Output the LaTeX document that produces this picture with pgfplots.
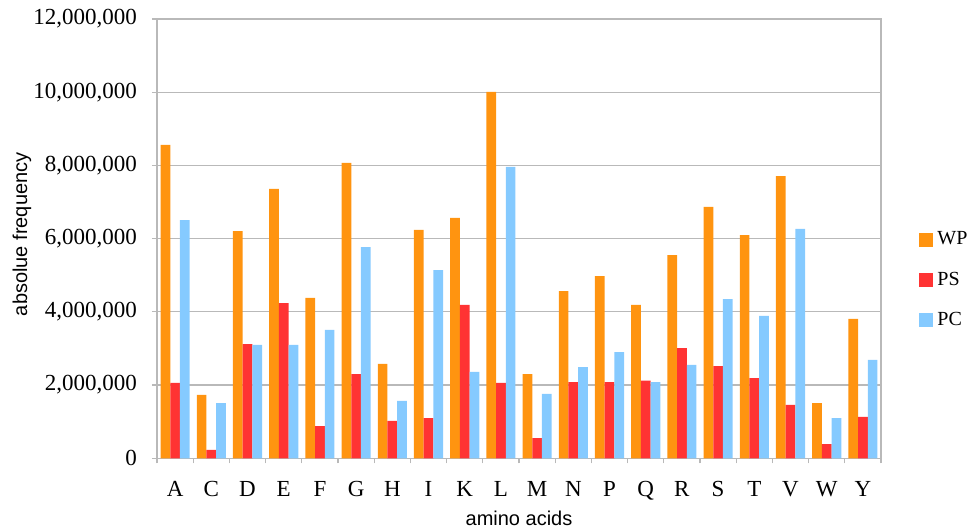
\documentclass[border=0pt]{standalone}
\usepackage{fontspec}
\setmainfont{Liberation Serif}
\newfontfamily\labelsans{Liberation Sans}
\usepackage{pgfplots}
\usepackage{pgfplotstable}
\pgfplotsset{compat=1.18}

\definecolor{wpcol}{RGB}{255,148,16}
\definecolor{pscol}{RGB}{255,51,51}
\definecolor{pccol}{RGB}{133,202,255}
\definecolor{axcol}{RGB}{185,185,185}

% absolute amino-acid counts per set
\pgfplotstableread{
idx aa WP PS PC
0  A 8560000  2060000 6510000
1  C 1730000  230000  1510000
2  D 6210000  3120000 3100000
3  E 7360000  4240000 3100000
4  F 4380000  880000  3510000
5  G 8070000  2300000 5770000
6  H 2580000  1020000 1570000
7  I 6240000  1100000 5140000
8  K 6570000  4190000 2360000
9  L 10010000 2060000 7960000
10 M 2300000  550000  1760000
11 N 4570000  2080000 2490000
12 P 4980000  2080000 2900000
13 Q 4190000  2120000 2080000
14 R 5550000  3010000 2550000
15 S 6870000  2520000 4350000
16 T 6100000  2190000 3890000
17 V 7710000  1460000 6270000
18 W 1510000  390000  1100000
19 Y 3810000  1130000 2690000
}\aadata

\begin{document}
\begin{tikzpicture}
\path[use as bounding box] (-78.5pt,-35.35pt) rectangle (407.5pt,229.15pt);
\begin{axis}[
  name=ax,
  at={(0,0)}, anchor=south west,
  scale only axis, width=362pt, height=219.6pt,
  ybar=0pt, bar width=4.85pt,
  xmin=-0.5, xmax=19.5, ymin=0, ymax=12000000,
  xtick={0,...,19},
  xticklabels={A,C,D,E,F,G,H,I,K,L,M,N,P,Q,R,S,T,V,W,Y},
  minor xtick={-0.5,0.5,...,19.5},
  major x tick style={draw=none},
  ytick={0,2000000,...,12000000},
  scaled y ticks=false,
  tick align=outside,
  xtick pos=bottom, ytick pos=left,
  major tick length=2.5pt, minor tick length=2.5pt,
  ymajorgrids,
  grid style={axcol, line width=0.6pt},
  axis line style={axcol, line width=0.7pt},
  tick style={axcol, line width=0.6pt},
  tick label style={font=\fontsize{11.5}{13}\selectfont},
  xticklabel style={yshift=-5.5pt},
  yticklabel style={xshift=-4pt},
  xlabel={amino acids},
  ylabel={absolue frequency},
  label style={font=\labelsans\fontsize{10}{12}\selectfont},
  xlabel style={at={(axis description cs:0.5,-0.1366)}, anchor=center},
  ylabel style={at={(axis description cs:-0.1865,0.51)}, anchor=center, rotate=0},
  legend style={at={(axis description cs:1.0525,0.406)}, anchor=west,
    draw=none, fill=none, inner sep=0pt, row sep=8pt,
    font=\fontsize{10}{12}\selectfont,
    /tikz/every even column/.append style={column sep=3pt}},
  legend cell align=left,
  legend image code/.code={\fill[#1] (0pt,-3.5pt) rectangle (7pt,3.5pt);},
  /pgf/number format/fixed,
  /pgf/number format/1000 sep={,},
  /pgf/number format/assume math mode=true,
]
\addplot[draw=none, fill=wpcol] table[x=idx, y=WP] {\aadata};
\addplot[draw=none, fill=pscol] table[x=idx, y=PS] {\aadata};
\addplot[draw=none, fill=pccol] table[x=idx, y=PC] {\aadata};
\legend{WP,PS,PC}
\end{axis}
\end{tikzpicture}
\end{document}
